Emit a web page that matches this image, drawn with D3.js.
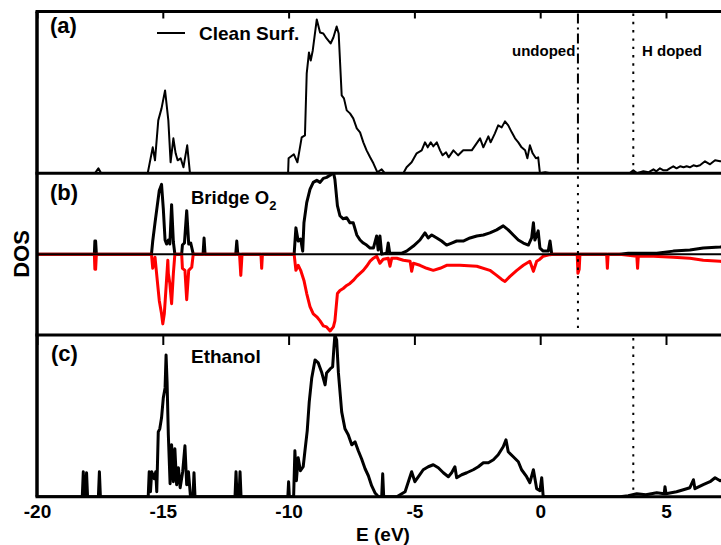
<!DOCTYPE html>
<html>
<head>
<meta charset="utf-8">
<script src="https://cdn.jsdelivr.net/npm/d3@7"></script>
<style>
  html, body { margin: 0; padding: 0; background: #fff; }
  svg { display: block; }
  text { font-family: "Liberation Sans", Arial, Helvetica, sans-serif; font-weight: bold; fill: #000; }
</style>
</head>
<body>
<svg id="chart" width="721" height="545"></svg>
<script>
// Energy ticks (eV)
const energyTicks = [-20, -15, -10, -5, 0, 5];

// (a) clean surface DOS: [E (eV), DOS (arb. units)]
const cleanSurf = [
  [-20, 0], [-17.7, 0], [-17.56, 0.5], [-17.45, 0], [-15.6, 0], [-15.4, 2.6], [-15.31, 1.3], [-15.18, 5.3],
  [-15.05, 6.5], [-14.91, 8.3], [-14.78, 5.3], [-14.69, 1.1], [-14.58, 3.5], [-14.49, 2.0], [-14.41, 1.3],
  [-14.29, 1.5], [-14.18, 0.6], [-14.03, 2.8], [-13.92, 0], [-10.02, 0], [-10.0, 1.5], [-9.79, 1.9],
  [-9.65, 1.1], [-9.48, 3.6], [-9.35, 3.8], [-9.28, 10.0], [-9.19, 12.1], [-9.12, 11.3], [-9.04, 12.3],
  [-8.88, 15.4], [-8.75, 14.1], [-8.62, 14.0], [-8.49, 13.5], [-8.33, 13.0], [-8.22, 13.6], [-8.09, 14.7],
  [-8.01, 14.0], [-7.89, 7.8], [-7.80, 7.5], [-7.69, 6.3], [-7.56, 6.0], [-7.43, 5.5], [-7.29, 4.5],
  [-7.16, 4.1], [-7.03, 3.1], [-6.90, 2.3], [-6.76, 1.6], [-6.63, 1.0], [-6.47, 0.1], [-6.30, 0.4],
  [-6.17, 0], [-5.44, 0], [-5.31, 0.6], [-5.11, 1.1], [-4.91, 2.0], [-4.71, 2.3], [-4.58, 3.1],
  [-4.47, 2.6], [-4.35, 3.1], [-4.25, 2.7], [-4.11, 3.1], [-3.98, 2.3], [-3.88, 1.8], [-3.74, 2.1],
  [-3.64, 1.6], [-3.45, 2.3], [-3.26, 1.8], [-3.06, 2.3], [-2.72, 2.3], [-2.50, 3.1], [-2.39, 3.5],
  [-2.26, 2.6], [-2.06, 3.7], [-1.97, 3.1], [-1.80, 4.0], [-1.67, 4.8], [-1.53, 4.6], [-1.40, 5.2],
  [-1.27, 4.8], [-1.13, 4.1], [-1.00, 3.5], [-0.87, 3.1], [-0.74, 2.6], [-0.60, 2.3], [-0.51, 1.5],
  [-0.41, 2.8], [-0.30, 2.0], [-0.17, 1.5], [-0.08, 1.6], [-0.01, 0], [0.2, 0.1], [0.4, 0], [3.55, 0],
  [3.70, 0.3], [3.85, 0], [4.10, 0.2], [4.30, 0.1], [4.50, 0.4], [4.62, 0.2], [4.76, 0.5], [4.90, 0.3],
  [5.03, 0.3], [5.15, 0.5], [5.29, 0.7], [5.42, 0.5], [5.56, 0.7], [5.70, 0.6], [5.82, 0.7], [5.95, 0.6],
  [6.09, 0.8], [6.22, 0.7], [6.35, 0.8], [6.55, 1.2], [6.75, 0.9], [6.95, 1.3], [7.15, 1.2], [7.4, 1.3]
];

// (b) bridge O2, spin up (positive)
const bridgeUp = [
  [-20, 0], [-17.72, 0], [-17.70, 1.3], [-17.67, 1.3], [-17.64, 0], [-15.45, 0], [-15.40, 1.3],
  [-15.31, 3.1], [-15.22, 4.8], [-15.14, 6.3], [-15.05, 6.9], [-14.98, 4.5], [-14.91, 1.4], [-14.85, 1.0],
  [-14.78, 1.4], [-14.72, 1.0], [-14.65, 4.9], [-14.58, 1.2], [-14.52, 0], [-14.25, 0], [-14.22, 0.9],
  [-14.14, 1.1], [-14.05, 4.3], [-13.97, 1.0], [-13.89, 1.1], [-13.79, 0], [-13.40, 0], [-13.36, 1.6],
  [-13.32, 0], [-12.10, 0], [-12.06, 1.3], [-12.02, 0], [-9.78, 0], [-9.71, 2.6], [-9.62, 1.3],
  [-9.52, 1.5], [-9.44, 0.3], [-9.39, 3.1], [-9.28, 5.1], [-9.15, 6.4], [-9.02, 7.1], [-8.88, 7.3],
  [-8.75, 7.1], [-8.62, 7.5], [-8.49, 7.6], [-8.35, 7.8], [-8.22, 8.1], [-8.16, 7.4], [-8.06, 4.8],
  [-7.96, 3.8], [-7.83, 3.5], [-7.69, 3.6], [-7.56, 3.1], [-7.43, 3.1], [-7.29, 1.9], [-7.16, 1.4],
  [-7.03, 1.1], [-6.90, 0.9], [-6.76, 0.6], [-6.63, 0.6], [-6.50, 1.8], [-6.44, 0.4], [-6.37, 1.8],
  [-6.30, 0], [-6.10, 0.1], [-6.04, 1.1], [-5.98, 0.1], [-5.50, 0.1], [-5.31, 0.3], [-5.04, 0.8],
  [-4.78, 1.4], [-4.58, 2.1], [-4.45, 1.6], [-4.31, 1.9], [-4.11, 1.6], [-3.92, 1.3], [-3.72, 0.9],
  [-3.52, 1.1], [-3.32, 1.3], [-3.06, 1.3], [-2.79, 1.6], [-2.52, 1.8], [-2.26, 1.9], [-2.00, 2.1],
  [-1.73, 2.4], [-1.47, 2.8], [-1.27, 2.4], [-1.07, 1.9], [-0.87, 1.4], [-0.67, 1.1], [-0.47, 0.9],
  [-0.34, 1.6], [-0.27, 3.1], [-0.21, 1.4], [-0.08, 2.3], [-0.01, 0.6], [0.12, 0.3], [0.32, 0.3],
  [0.39, 1.3], [0.46, 0], [3.15, 0], [3.5, 0.1], [4.0, 0.1], [4.63, 0.1], [5.29, 0.3], [5.95, 0.4],
  [6.48, 0.6], [7.15, 0.7], [7.4, 0.8]
];

// (b) bridge O2, spin down (negative)
const bridgeDown = [
  [-20, 0], [-17.72, 0], [-17.70, -1.5], [-17.67, -1.5], [-17.64, 0], [-15.45, 0], [-15.40, -1.4],
  [-15.31, -0.3], [-15.22, -2.6], [-15.14, -4.6], [-15.05, -5.9], [-15.00, -6.9], [-14.94, -5.9],
  [-14.86, -2.9], [-14.80, -0.6], [-14.78, -1.9], [-14.72, -2.9], [-14.65, -4.9], [-14.58, -1.9],
  [-14.52, 0], [-14.25, 0], [-14.22, -1.4], [-14.12, -1.6], [-14.05, -4.5], [-13.97, -1.6], [-13.85, -1.3],
  [-13.79, 0], [-11.95, 0], [-11.90, -2.1], [-11.85, 0], [-11.10, 0], [-11.07, -1.4], [-11.04, 0],
  [-9.78, 0], [-9.71, -1.6], [-9.62, -1.1], [-9.52, -1.6], [-9.39, -2.6], [-9.28, -3.9], [-9.15, -5.2],
  [-9.02, -5.9], [-8.88, -6.2], [-8.75, -6.6], [-8.62, -7.1], [-8.49, -7.2], [-8.35, -7.6], [-8.22, -7.2],
  [-8.16, -6.6], [-8.06, -3.9], [-7.96, -3.6], [-7.83, -3.4], [-7.69, -3.1], [-7.56, -2.9], [-7.43, -2.6],
  [-7.29, -2.2], [-7.16, -1.9], [-7.03, -1.6], [-6.90, -1.2], [-6.76, -0.7], [-6.63, -0.4], [-6.50, -0.2],
  [-6.37, -0.9], [-6.24, -0.5], [-6.04, -0.4], [-5.97, -1.2], [-5.90, -0.4], [-5.70, -0.4], [-5.44, -0.6],
  [-5.17, -0.7], [-5.11, -1.7], [-5.04, -0.9], [-4.78, -1.1], [-4.51, -1.4], [-4.25, -1.6], [-3.98, -1.4],
  [-3.72, -1.1], [-3.19, -1.1], [-2.52, -1.2], [-2.00, -1.6], [-1.73, -2.1], [-1.53, -2.5], [-1.40, -2.7],
  [-1.20, -2.2], [-0.93, -1.6], [-0.67, -1.1], [-0.41, -0.7], [-0.27, -1.7], [-0.14, -0.7], [-0.01, -0.5],
  [0.12, -0.2], [0.39, -0.05], [0.52, 0], [1.47, 0], [1.50, -1.9], [1.55, -1.5], [1.58, 0], [2.64, 0],
  [2.67, -1.4], [2.70, 0], [3.15, 0], [3.5, -0.1], [3.84, -0.2], [3.87, -1.4], [3.90, -0.2], [4.5, -0.2],
  [5.29, -0.3], [5.95, -0.4], [6.48, -0.6], [7.15, -0.7], [7.4, -0.8]
];

// (c) ethanol
const ethanol = [
  [-20, 0], [-18.20, 0], [-18.16, 2.5], [-18.12, 0], [-18.07, 0], [-18.03, 2.4], [-17.99, 0], [-17.56, 0],
  [-17.52, 2.5], [-17.48, 0], [-15.58, 0], [-15.54, 2.5], [-15.49, 0.5], [-15.44, 2.5], [-15.34, 1.8],
  [-15.28, 2.5], [-15.24, 0.5], [-15.18, 6.5], [-15.12, 6.8], [-15.05, 7.9], [-14.98, 9.9], [-14.91, 10.9],
  [-14.87, 14.2], [-14.83, 11.5], [-14.78, 6.2], [-14.71, 1.3], [-14.65, 5.2], [-14.58, 1.5], [-14.52, 4.8],
  [-14.45, 1.2], [-14.38, 2.9], [-14.31, 0.9], [-14.21, 2.5], [-14.12, 5.1], [-14.05, 1.2], [-13.98, 2.5],
  [-13.90, 0], [-13.80, 0], [-13.76, 2.4], [-13.72, 0], [-12.13, 0], [-12.09, 2.5], [-12.05, 0], [-11.97, 0],
  [-11.93, 2.5], [-11.89, 0], [-10.03, 0], [-10.00, 1.5], [-9.97, 0], [-9.80, 0], [-9.75, 4.6], [-9.69, 1.6],
  [-9.62, 3.9], [-9.53, 2.6], [-9.42, 3.0], [-9.35, 4.6], [-9.26, 6.6], [-9.18, 9.5], [-9.08, 11.9],
  [-8.95, 13.7], [-8.82, 13.4], [-8.69, 12.5], [-8.55, 11.2], [-8.49, 12.4], [-8.35, 12.8], [-8.25, 13.0],
  [-8.20, 14.9], [-8.16, 16.2], [-8.09, 15.7], [-8.02, 12.4], [-7.89, 8.5], [-7.76, 6.8], [-7.63, 6.2],
  [-7.49, 5.2], [-7.36, 5.5], [-7.23, 4.6], [-7.10, 3.8], [-6.96, 2.8], [-6.83, 2.1], [-6.70, 1.1],
  [-6.57, 0.4], [-6.43, 0], [-6.30, 0], [-6.26, 2.3], [-6.22, 0], [-5.70, 0], [-5.37, 0.5], [-5.24, 1.5],
  [-5.11, 2.5], [-4.98, 1.5], [-4.84, 2.0], [-4.65, 2.7], [-4.45, 3.0], [-4.25, 3.2], [-4.05, 2.9],
  [-3.85, 2.4], [-3.65, 2.0], [-3.52, 2.4], [-3.39, 3.0], [-3.32, 1.9], [-3.12, 2.2], [-2.92, 2.4],
  [-2.66, 2.7], [-2.46, 3.0], [-2.26, 3.4], [-2.06, 3.4], [-1.86, 3.7], [-1.67, 4.2], [-1.47, 5.0],
  [-1.36, 5.7], [-1.27, 4.5], [-1.07, 4.0], [-0.87, 3.5], [-0.74, 2.7], [-0.54, 2.0], [-0.41, 1.4],
  [-0.27, 2.7], [-0.14, 0.8], [-0.01, 0.6], [0.06, 1.9], [0.12, 0], [3.17, 0], [3.50, 0.1], [3.84, 0.3],
  [4.20, 0.2], [4.63, 0.4], [4.93, 0.3], [4.96, 1.0], [5.00, 0.3], [5.42, 0.5], [5.69, 0.7], [5.95, 0.9],
  [6.09, 1.7], [6.15, 0.8], [6.48, 1.2], [6.75, 1.5], [6.95, 1.9], [7.15, 1.6], [7.4, 1.8]
];

// Marker energies (eV)
const undopedLevel = 1.5;
const hDopedLevel = 3.7;

const svg = d3.select("#chart");

const x = d3.scaleLinear().domain([-20, 7.5]).range([37, 728.9]);
const xRight = 745;

const panels = [
  { id: "a", top: 11.5, bottom: 173.3, domain: [0, 16.2] },
  { id: "b", top: 173.3, bottom: 335, domain: [-8, 8] },
  { id: "c", top: 335, bottom: 496.7, domain: [0, 16.2] }
];
panels.forEach(p => { p.y = d3.scaleLinear().domain(p.domain).range([p.bottom, p.top]); });

const defs = svg.append("defs");
panels.forEach(p => {
  defs.append("clipPath").attr("id", "clip-" + p.id)
    .append("rect").attr("x", x(-20)).attr("y", p.top).attr("width", xRight - x(-20)).attr("height", p.bottom - p.top);
});

const lineFor = p => d3.line().x(d => x(d[0])).y(d => p.y(d[1]));

// curves
const [pa, pb, pc] = panels;
svg.append("g").attr("clip-path", "url(#clip-a)")
  .append("path").datum(cleanSurf).attr("d", lineFor(pa))
  .attr("fill", "none").attr("stroke", "#000").attr("stroke-width", 2).attr("stroke-linejoin", "round");

const gb = svg.append("g").attr("clip-path", "url(#clip-b)");
gb.append("path").datum(bridgeUp).attr("d", lineFor(pb))
  .attr("fill", "none").attr("stroke", "#000").attr("stroke-width", 3).attr("stroke-linejoin", "round");
gb.append("path").datum(bridgeDown).attr("d", lineFor(pb))
  .attr("fill", "none").attr("stroke", "#ff0000").attr("stroke-width", 3).attr("stroke-linejoin", "round");
gb.append("line").attr("x1", x(-20)).attr("x2", xRight).attr("y1", pb.y(0)).attr("y2", pb.y(0))
  .attr("stroke", "#000").attr("stroke-width", 2);

svg.append("g").attr("clip-path", "url(#clip-c)")
  .append("path").datum(ethanol).attr("d", lineFor(pc))
  .attr("fill", "none").attr("stroke", "#000").attr("stroke-width", 3).attr("stroke-linejoin", "round");

// level markers
const vline = (E, y1, y2, dash) => svg.append("line")
  .attr("x1", x(E)).attr("x2", x(E)).attr("y1", y1).attr("y2", y2)
  .attr("stroke", "#000").attr("stroke-width", 2).attr("stroke-dasharray", dash);
vline(undopedLevel, pa.top + 2, pa.bottom, "10,4,2,4");
vline(undopedLevel, pb.top + 3, pb.bottom - 3, "2.4,5.9");
vline(hDopedLevel, pa.top + 2, pa.bottom, "2.4,5.9");
vline(hDopedLevel, pc.top + 3, pc.bottom - 3, "2.4,5.9");

// inward ticks on top edge of panels
[[pa, 7], [pc, 10]].forEach(([p, len]) => {
  svg.append("g").attr("transform", `translate(0,${p.top})`)
    .call(d3.axisBottom(x).tickValues(energyTicks).tickSize(len).tickFormat(""))
    .call(g => g.select(".domain").remove())
    .call(g => g.selectAll("line").attr("stroke", "#000").attr("stroke-width", 2));
});

// frame
const frame = svg.append("g").attr("stroke", "#000").attr("stroke-width", 3).attr("fill", "none");
[pa.top, pa.bottom, pb.bottom, pc.bottom].forEach(yv => {
  frame.append("line").attr("x1", x(-20) - 1.5).attr("x2", xRight).attr("y1", yv).attr("y2", yv);
});
frame.append("line").attr("x1", x(-20)).attr("x2", x(-20)).attr("y1", pa.top).attr("y2", pc.bottom)
  .attr("stroke-width", 3.5);

// bottom axis labels
svg.append("g").attr("transform", `translate(0,${pc.bottom})`)
  .call(d3.axisBottom(x).tickValues(energyTicks).tickSize(0).tickPadding(8).tickFormat(d => String(d)))
  .call(g => g.select(".domain").remove())
  .call(g => g.selectAll("text").style("font-size", "19px").style("font-family", '"Liberation Sans", Arial, sans-serif').style("font-weight", "bold"));

svg.append("text").attr("x", 383).attr("y", 541).attr("text-anchor", "middle")
  .style("font-size", "19px").text("E (eV)");
svg.append("text").attr("transform", "translate(29,254) rotate(-90)").attr("text-anchor", "middle")
  .style("font-size", "22px").text("DOS");

// panel labels
svg.append("text").attr("x", 50).attr("y", 33).style("font-size", "22px").text("(a)");
svg.append("text").attr("x", 50).attr("y", 200).style("font-size", "22px").text("(b)");
svg.append("text").attr("x", 51).attr("y", 361).style("font-size", "22px").text("(c)");

// legend
svg.append("line").attr("x1", 157).attr("x2", 185).attr("y1", 33).attr("y2", 33)
  .attr("stroke", "#000").attr("stroke-width", 2);
svg.append("text").attr("x", 199).attr("y", 40).style("font-size", "19px").text("Clean Surf.");

const bridge = svg.append("text").attr("x", 191).attr("y", 204).style("font-size", "18.5px");
bridge.append("tspan").text("Bridge O");
bridge.append("tspan").attr("dy", 6).style("font-size", "13px").text("2");

svg.append("text").attr("x", 191).attr("y", 363).style("font-size", "19px").text("Ethanol");

svg.append("text").attr("x", 512).attr("y", 56).style("font-size", "15px").text("undoped");
svg.append("text").attr("x", 642).attr("y", 56).style("font-size", "15px").text("H doped");
</script>
</body>
</html>
